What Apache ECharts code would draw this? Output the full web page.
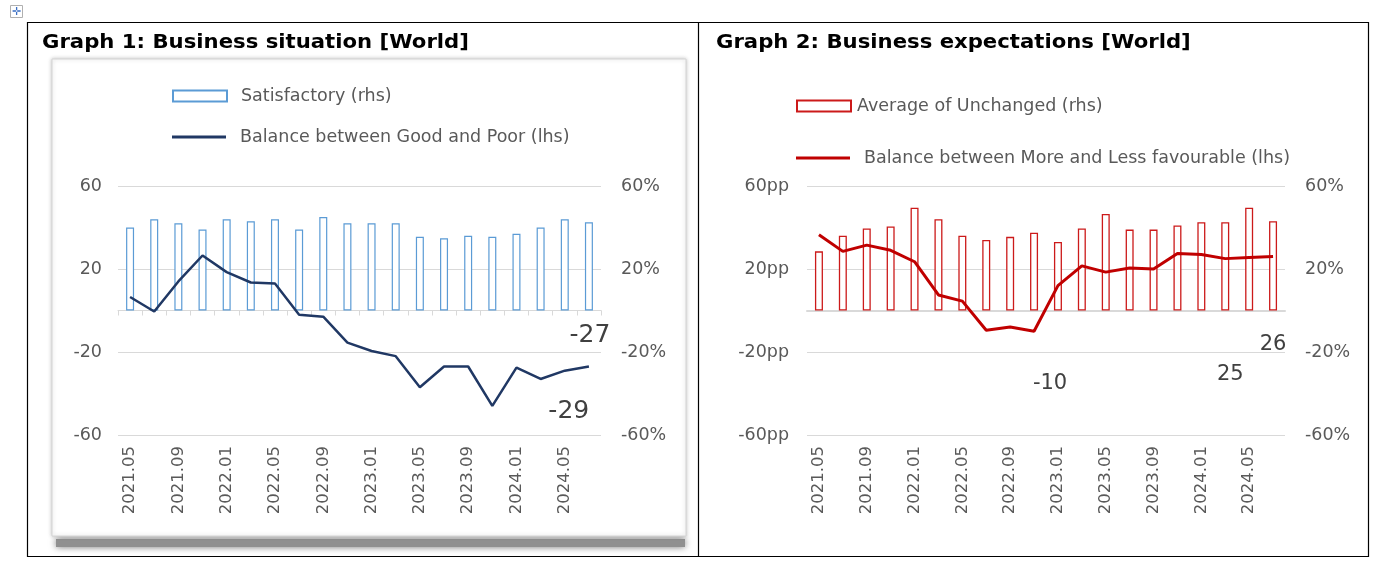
<!DOCTYPE html>
<html>
<head>
<meta charset="utf-8">
<script src="https://cdn.jsdelivr.net/npm/echarts@6/dist/echarts.min.js"></script>
<style>
html,body{margin:0;padding:0;background:#fff;}
#c{width:1380px;height:563px;}
</style>
</head>
<body>
<div id="c"></div>
<script>
// ---- data ----
const categories = ['2021.05','2021.07','2021.09','2021.11','2022.01','2022.03','2022.05','2022.07','2022.09','2022.11',
  '2023.01','2023.03','2023.05','2023.07','2023.09','2023.11','2024.01','2024.03','2024.05','2024.07'];
const satisfactory = [40, 44, 42, 39, 44, 43, 44, 39, 45, 42, 42, 42, 35.5, 34.8, 36, 35.5, 37, 40, 44, 42.5];
const balanceGoodPoor = [6.5, -0.5, 14, 26.5, 18.5, 13.5, 13, -2, -3, -15.5, -19.5, -22, -37, -27, -27, -46, -27.5, -33, -29, -27];
const unchanged = [28.5, 36, 39.5, 40.5, 49.5, 44, 36, 34, 35.5, 37.5, 33, 39.5, 46.5, 39, 39, 41, 42.5, 42.5, 49.5, 43];
const balanceMoreLess = [36.5, 28.5, 31.5, 29, 23.5, 7.5, 4.5, -9.5, -8, -10, 12, 21.5, 18.5, 20.5, 20, 27.5, 27, 25, 25.5, 26];
const titles = ['Graph 1: Business situation [World]', 'Graph 2: Business expectations [World]'];
const names = ['Satisfactory (rhs)', 'Balance between Good and Poor (lhs)', 'Average of Unchanged (rhs)', 'Balance between More and Less favourable (lhs)'];

// ---- styles ----
const FONT = 'DejaVu Sans';
const FS = 17.5;
const TXT = '#595959';
const GRIDC = '#d9d9d9';

function labelled(values, cfg) {
  return values.map((v, i) => cfg[i] ? { value: v, label: Object.assign({ show: true, position: 'inside', color: '#404040', fontFamily: FONT, formatter: p => Math.round(p.value) }, cfg[i]) } : v);
}

const grids = [
  { left: 118, top: 186, width: 483, height: 249 },
  { left: 807, top: 186, width: 478, height: 249 }
];

function xAxes(g, withTicks) {
  return [
    { gridIndex: g, type: 'category', data: categories, position: 'bottom',
      axisLine: { show: false, onZero: false }, axisTick: { show: false },
      axisLabel: { interval: 1, rotate: 90, margin: 11, color: TXT, fontSize: 16.5, fontFamily: FONT },
      splitLine: { show: false } },
    { gridIndex: g, type: 'category', data: categories, position: 'top',
      axisLine: { show: true, onZero: true, onZeroAxisIndex: g * 2, lineStyle: { color: GRIDC, width: withTicks ? 1 : 2 } },
      axisTick: { show: withTicks, inside: true, length: 5, interval: 0, lineStyle: { color: GRIDC } },
      axisLabel: { show: false }, splitLine: { show: false } }
  ];
}
function yAxes(g, leftFmt) {
  return [
    { gridIndex: g, type: 'value', min: -60, max: 60, interval: 40, position: 'left',
      axisLine: { show: false }, axisTick: { show: false },
      axisLabel: { color: TXT, fontSize: FS, fontFamily: FONT, margin: g ? 18 : 16, formatter: leftFmt },
      splitLine: { show: true, lineStyle: { color: GRIDC, width: 1 } } },
    { gridIndex: g, type: 'value', min: -60, max: 60, interval: 40, position: 'right',
      axisLine: { show: false }, axisTick: { show: false },
      axisLabel: { color: TXT, fontSize: FS, fontFamily: FONT, margin: 20, formatter: '{value}%' },
      splitLine: { show: false } }
  ];
}

function legendItem(name, left, cy, isLine, textPad) {
  return {
    data: [name], left: left, top: cy - 10, padding: 0,
    itemWidth: 54, itemHeight: isLine ? 3 : 11, icon: 'rect', selectedMode: false,
    textStyle: { color: TXT, fontSize: FS, fontFamily: FONT, lineHeight: 20, padding: [0, 0, 0, textPad] }
  };
}

function titleText(text, x) {
  return { type: 'text', z: 50, x: x, y: 43, scaleX: 1.06, originX: 0, originY: 0,
    style: { text: text, fill: '#000', fontFamily: 'DejaVu Sans', fontWeight: 'bold', fontSize: 20, align: 'left', verticalAlign: 'middle' } };
}

const option = {
  animation: false,
  backgroundColor: '#fff',
  legend: [
    legendItem(names[0], 172, 96, false, 9),
    legendItem(names[1], 172, 137, true, 9),
    legendItem(names[2], 796, 106, false, 1),
    legendItem(names[3], 796, 158, true, 9)
  ],
  grid: grids,
  xAxis: [].concat(xAxes(0, true), xAxes(1, false)),
  yAxis: [].concat(yAxes(0, '{value}'), yAxes(1, '{value}pp')),
  graphic: [
    { type: 'rect', z: -11, shape: { x: 56, y: 539, width: 629, height: 8 },
      style: { fill: '#909090', shadowBlur: 7, shadowColor: 'rgba(0,0,0,0.55)' } },
    { type: 'rect', z: -10, shape: { x: 52, y: 59, width: 634, height: 477 },
      style: { fill: '#fff', stroke: '#d4d4d4', lineWidth: 1, shadowBlur: 4, shadowColor: 'rgba(0,0,0,0.22)' } },
    { type: 'rect', z: 50, shape: { x: 27.5, y: 22.5, width: 1341, height: 534 },
      style: { fill: 'none', stroke: '#000', lineWidth: 1.2 } },
    { type: 'line', z: 50, shape: { x1: 698.5, y1: 22.5, x2: 698.5, y2: 556.5 },
      style: { stroke: '#000', lineWidth: 1.2 } },
    { type: 'rect', z: 50, shape: { x: 10.5, y: 5.5, width: 12, height: 12 },
      style: { fill: '#fff', stroke: '#b0b0b0', lineWidth: 1 } },
    { type: 'text', z: 51, x: 16.5, y: 11.5, style: { text: '\u271B', fill: '#3b6fc4', fontSize: 11, align: 'center', verticalAlign: 'middle' } },
    titleText(titles[0], 42),
    titleText(titles[1], 716)
  ],
  series: [
    { name: names[0], type: 'bar', xAxisIndex: 0, yAxisIndex: 1, data: satisfactory, barWidth: 8,
      itemStyle: { color: '#ffffff', borderColor: '#5b9bd5', borderWidth: 1.2 }, z: 2 },
    { name: names[1], type: 'line', xAxisIndex: 0, yAxisIndex: 0, color: '#203864',
      data: labelled(balanceGoodPoor, { 18: { fontSize: 25, offset: [4, 41] }, 19: { fontSize: 25, offset: [1, -31] } }),
      symbol: 'circle', symbolSize: 0, showSymbol: true,
      lineStyle: { color: '#203864', width: 2.5 }, itemStyle: { color: '#203864' }, z: 3 },
    { name: names[2], type: 'bar', xAxisIndex: 2, yAxisIndex: 3, data: unchanged, barWidth: 8,
      itemStyle: { color: '#ffffff', borderColor: '#cc1a1a', borderWidth: 1.3 }, z: 2 },
    { name: names[3], type: 'line', xAxisIndex: 2, yAxisIndex: 2, color: '#c00000',
      data: labelled(balanceMoreLess, { 9: { fontSize: 21, offset: [16, 52] }, 17: { fontSize: 21, offset: [5, 116] }, 19: { fontSize: 21, offset: [0, 88] } }),
      symbol: 'circle', symbolSize: 0, showSymbol: true,
      lineStyle: { color: '#c00000', width: 3 }, itemStyle: { color: '#c00000' }, z: 3 }
  ]
};

const chart = echarts.init(document.getElementById('c'), null, { renderer: 'canvas' });
chart.setOption(option);
</script>
</body>
</html>
